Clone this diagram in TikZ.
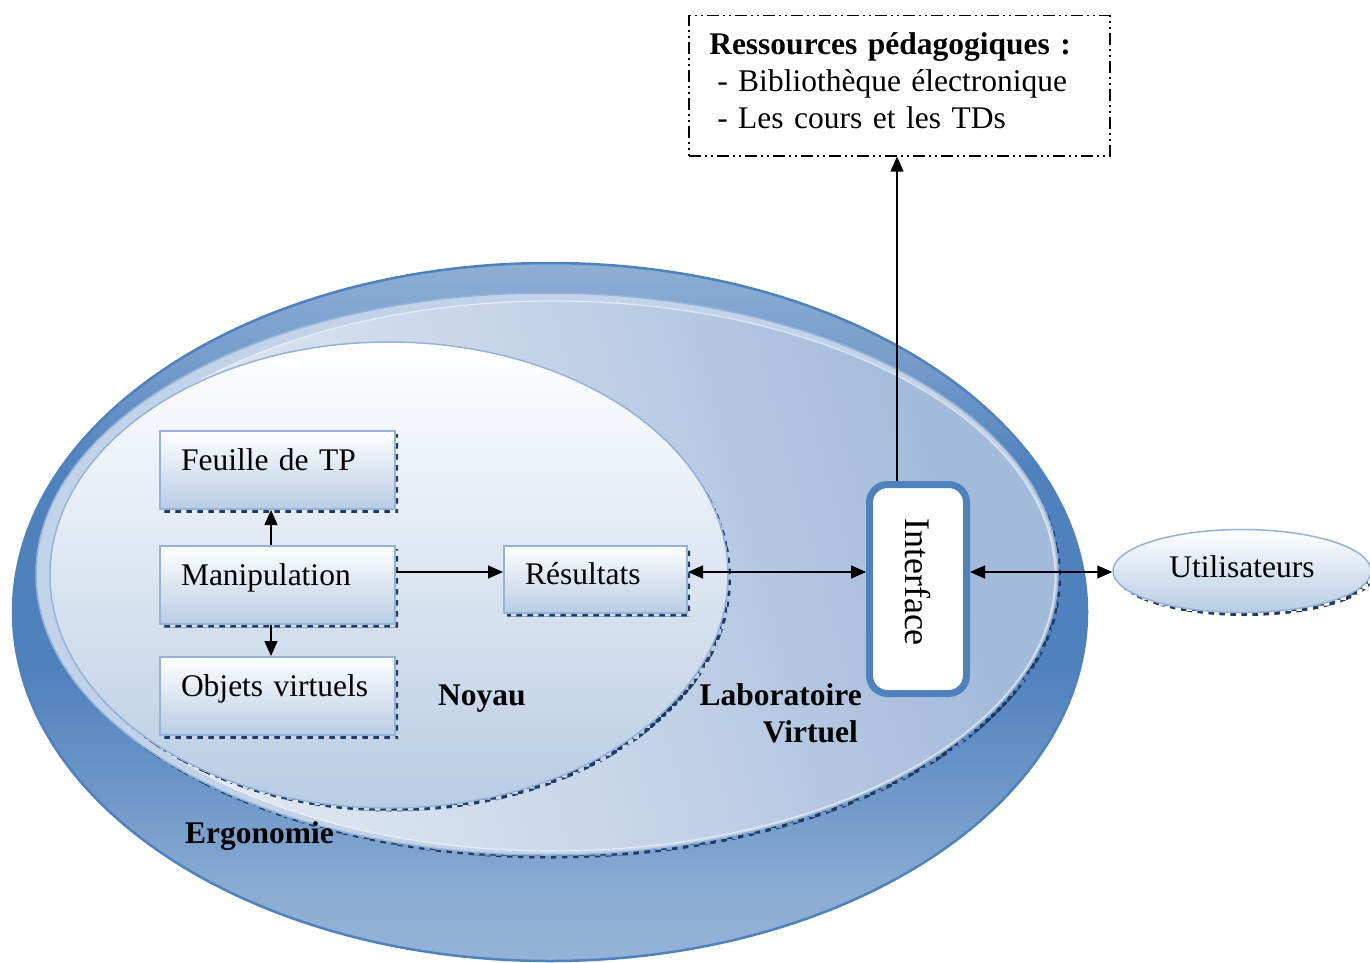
\documentclass[tikz,border=0pt]{standalone}
\usepackage{fontspec}
\setmainfont{Liberation Serif}
\usepackage{graphicx}
\usetikzlibrary{arrows.meta,shapes.geometric,patterns}

\definecolor{ergoDark}{HTML}{4F81BD}
\definecolor{ergoLight}{HTML}{95B3D7}
\definecolor{labDark}{HTML}{A3BBDB}
\definecolor{labMid}{HTML}{C8D6EA}
\definecolor{labLight}{HTML}{DFE7F2}
\definecolor{labRim}{HTML}{C2D3E9}
\definecolor{paleBlue}{HTML}{B8CCE4}
\definecolor{edgeBlue}{HTML}{95B3D7}
\definecolor{shadowNavy}{HTML}{1F3A63}

% outer ring: light at top and bottom, deep blue around the middle
\pgfdeclareverticalshading{ergoshade}{100bp}{%
  color(0bp)=(ergoLight); color(25bp)=(ergoLight);
  color(30bp)=(ergoLight!85!ergoDark); color(37bp)=(ergoLight!45!ergoDark);
  color(46bp)=(ergoDark); color(60bp)=(ergoDark);
  color(68bp)=(ergoLight!55!ergoDark); color(75bp)=(ergoLight!90!ergoDark);
  color(100bp)=(ergoLight!90!ergoDark)}
% laboratory body: pale on the left and lower side, deeper towards the right
\pgfdeclareverticalshading{labshade}{100bp}{%
  color(0bp)=(labLight); color(30bp)=(labLight);
  color(50bp)=(labMid); color(72bp)=(labDark); color(100bp)=(labDark)}

\newcommand\tightspace{\spaceskip=5.6pt\xspaceskip=5.6pt\relax}

\tikzset{
  txt/.style={font=\fontsize{31.5}{37}\selectfont\tightspace},
  boldtxt/.style={font=\fontsize{31.5}{37}\selectfont\bfseries, inner sep=0pt},
  checkshadow/.style={preaction={pattern=checkerboard, pattern color=shadowNavy,
      transform canvas={xshift=3pt,yshift=-3.5pt}}},
  stepbox/.style={rectangle, draw=edgeBlue, line width=2pt, top color=white,
      bottom color=paleBlue, checkshadow, inner xsep=21pt, inner ysep=0pt,
      text width=193pt, text height=39pt, text depth=39pt, align=left, txt},
  link/.style={line width=1.4pt, -{Triangle[length=15pt,width=13pt]}},
  biglink/.style={line width=1.4pt,
      {Triangle[length=15pt,width=13pt]}-{Triangle[length=15pt,width=13pt]}},
}

\begin{document}
\begin{tikzpicture}[x=1pt,y=-1pt]
  \fill[white] (0,0) rectangle (1370,963);
  \useasboundingbox (0,0) rectangle (1370,963);

  % Ergonomie: outer ellipse
  \path[draw=ergoDark, line width=2.5pt, shading=ergoshade]
    (550,612) ellipse [x radius=537, y radius=349];

  % Laboratoire virtuel: rim and body
  \path[checkshadow, fill=labRim, draw=ergoLight, line width=1.5pt]
    (547,574) ellipse [x radius=511, y radius=281];
  \path[shading=labshade, shading angle=-75,
        draw=white, draw opacity=0.55, line width=1.2pt]
    (553,576) ellipse [x radius=502, y radius=275];

  % Noyau
  \path[checkshadow, top color=white, bottom color=paleBlue, draw=edgeBlue,
        line width=1.5pt]
    (389,575) ellipse [x radius=339, y radius=233];

  % Boxes of the core
  \node[stepbox] (feuille) at (277.5,470) {Feuille de TP};
  \node[stepbox] (manip) at (277.5,585) {Manipulation};
  \node[stepbox] (objets) at (277.5,696) {Objets virtuels};
  \node[stepbox, text width=141pt, text height=38pt, text depth=29pt,
        anchor=base] (res) at (595.5,584) {Résultats};

  % Interface
  \node[draw=ergoDark, line width=7pt, fill=white, rounded corners=18pt,
        minimum width=97pt, minimum height=209pt, inner sep=0pt,
        font=\fontsize{36}{40}\selectfont] (iface) at (918,589)
        {\rotatebox{-90}{Interface\hspace{14pt}}};

  % Users
  \node[ellipse, draw=edgeBlue, line width=1.5pt, top color=white,
        bottom color=paleBlue, checkshadow, minimum width=258pt,
        minimum height=83pt, inner sep=0pt, text depth=9pt, txt]
        (user) at (1242,571) {Utilisateurs};

  % Teaching resources
  \node[draw=black, line width=1.5pt,
        dash pattern=on 12pt off 4pt on 2pt off 4pt on 2pt off 4pt,
        minimum width=421pt, minimum height=140pt, text width=380pt,
        inner xsep=20pt, align=left, txt, anchor=north west]
        (ressources) at (688,15)
        {\textbf{Ressources pédagogiques :}\\
         \hspace*{8pt}- Bibliothèque électronique\\
         \hspace*{8pt}- Les cours et les TDs\rule[-11pt]{0pt}{11pt}};

  % Region labels
  \node[boldtxt, anchor=base west] (noyau) at (438,705) {Noyau};
  \node[boldtxt, anchor=base west] (ergo) at (185,843) {Ergonomie};
  \node[boldtxt, anchor=base east] (labo1) at (862,705) {Laboratoire};
  \node[boldtxt, anchor=base east] (labo2) at (858,742) {Virtuel};

  % Connectors
  \draw[link] ([xshift=-6.5pt]manip.north) -- ([xshift=-6.5pt]feuille.south);
  \draw[link] ([xshift=-6.5pt]manip.south) -- ([xshift=-6.5pt]objets.north);
  \coordinate (m1) at ([yshift=13pt]manip.east);
  \draw[link] (m1) -- (m1 -| res.west);
  \coordinate (r1) at ([yshift=7.5pt]res.east);
  \draw[biglink] (r1) -- (r1 -| iface.west);
  \coordinate (i2) at ([yshift=17pt]iface.east);
  \draw[biglink] (i2) -- (i2 -| user.west);
  \coordinate (i1) at ([xshift=-21pt]iface.north);
  \draw[link] (i1) -- (i1 |- ressources.south);
\end{tikzpicture}
\end{document}
